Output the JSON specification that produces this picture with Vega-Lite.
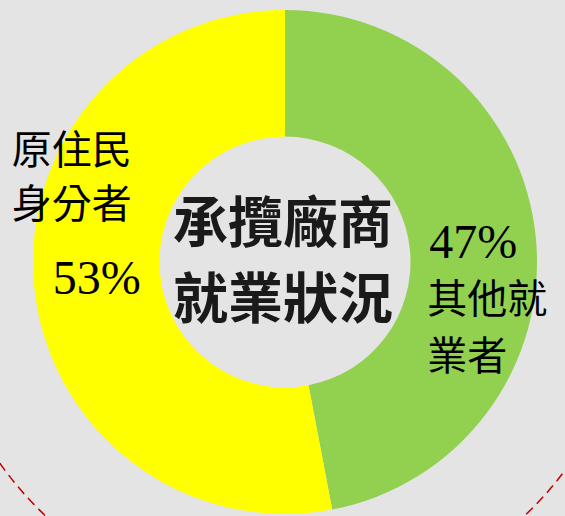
{
  "$schema": "https://vega.github.io/schema/vega-lite/v6.json",
  "width": 570,
  "height": 524,
  "autosize": {"type": "none"},
  "padding": 0,
  "background": "#e4e4e4",
  "view": {"stroke": null},
  "data": {"values": [
    {"category": "其他就業者", "label": "其他就\n業者", "share": 0.47},
    {"category": "原住民身分者", "label": "原住民\n身分者", "share": 0.53}
  ]},
  "resolve": {"scale": {"theta": "independent"}},
  "layer": [
    {
      "data": {"values": [{"ring": 1}]},
      "mark": {"type": "arc", "radius": 349, "innerRadius": 349, "fill": "transparent", "stroke": "#c00000", "strokeWidth": 1.5, "strokeDash": [9, 6], "strokeDashOffset": 4.3},
      "encoding": {"theta": {"field": "ring", "type": "quantitative", "scale": {"range": [2.0, 4.3]}}}
    },
    {
      "mark": {"type": "arc", "radius": 252, "innerRadius": 125.5},
      "encoding": {
        "theta": {"field": "share", "type": "quantitative", "stack": true},
        "order": {"field": "category", "sort": "ascending"},
        "color": {"field": "category", "type": "nominal", "scale": {"domain": ["其他就業者", "原住民身分者"], "range": ["#92d050", "#ffff00"]}, "legend": null}
      }
    },
    {
      "mark": {"type": "text", "radius": 189, "align": "center", "baseline": "middle", "font": "Liberation Serif", "fontSize": 48, "fill": "#000000"},
      "encoding": {
        "theta": {"field": "share", "type": "quantitative", "stack": true},
        "order": {"field": "category", "sort": "ascending"},
        "text": {"field": "share", "type": "quantitative", "format": ".0%"}
      }
    },
    {
      "mark": {"type": "text", "radius": 189, "align": "left", "baseline": "middle", "dx": -85, "dy": -128, "lineBreak": "\n", "lineHeight": 54, "font": "Noto Sans CJK TC", "fontSize": 40, "fill": "#000000"},
      "encoding": {
        "theta": {"field": "share", "type": "quantitative", "stack": true},
        "order": {"field": "category", "sort": "ascending"},
        "text": {"condition": {"test": "datum.category === '原住民身分者'", "field": "label"}, "value": ""}
      }
    },
    {
      "mark": {"type": "text", "radius": 189, "align": "left", "baseline": "middle", "dx": -46, "dy": 57, "lineBreak": "\n", "lineHeight": 57, "font": "Noto Sans CJK TC", "fontSize": 40, "fill": "#000000"},
      "encoding": {
        "theta": {"field": "share", "type": "quantitative", "stack": true},
        "order": {"field": "category", "sort": "ascending"},
        "text": {"condition": {"test": "datum.category === '其他就業者'", "field": "label"}, "value": ""}
      }
    },
    {
      "data": {"values": [{"title": "承攬廠商\n就業狀況"}]},
      "mark": {"type": "text", "align": "center", "baseline": "middle", "dx": -2, "dy": -37, "lineBreak": "\n", "lineHeight": 76, "font": "Noto Sans CJK TC", "fontSize": 55, "fontWeight": "bold", "fill": "#1a1a1a"},
      "encoding": {"text": {"field": "title", "type": "nominal"}}
    }
  ]
}
